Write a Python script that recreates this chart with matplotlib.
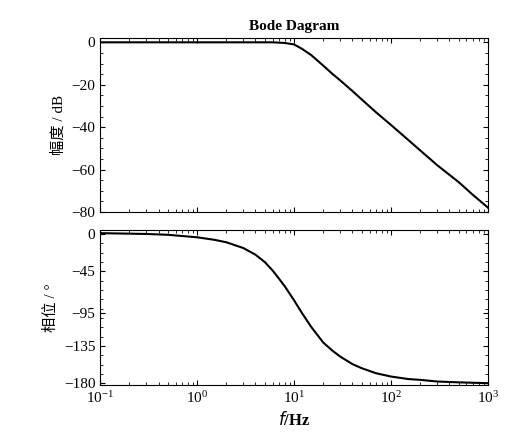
import numpy as np
import matplotlib.pyplot as plt

plt.rcParams['font.family'] = ['Liberation Serif', 'Noto Sans CJK SC']

# values
mag_freq = [0.1, 0.5, 1, 2, 4, 6, 8, 10, 12, 15, 20, 25, 30, 40, 50, 70, 100, 150, 200, 300, 500, 700, 1000]
mag_db = [0, 0, 0, 0, 0, 0, -0.3, -1, -3, -6, -11, -15, -18, -23, -27, -33, -39, -46, -51, -58, -66, -72, -78]

ph_freq = [0.1, 0.3, 0.5, 1, 1.5, 2, 3, 4, 5, 6, 7, 8, 10, 12, 15, 20, 25, 30, 40, 50, 70, 100, 150, 200, 300, 500, 1000]
ph_deg = [1, 0, -1, -4, -7, -10, -17, -25, -34, -44, -54, -63, -80, -95, -112, -131, -141, -148, -157, -162, -168, -172, -175, -176, -178, -179, -180]

ph_ticks = [0, -45, -95, -135, -180]

fig = plt.figure(figsize=(5.27, 4.48), dpi=100)
ax1 = fig.add_axes([0.19, 0.527, 0.736, 0.388])
ax2 = fig.add_axes([0.19, 0.141, 0.736, 0.346])

ax1.semilogx(mag_freq, mag_db, color='black', lw=1.5)
ax2.semilogx(ph_freq, ph_deg, color='black', lw=1.5)

for ax in (ax1, ax2):
    ax.set_xlim(0.1, 1000)
    ax.tick_params(which='both', direction='in', top=True, right=True, labelsize=11)
    ax.minorticks_on()

ax1.set_ylim(-80, 2)
ax1.set_yticks([0, -20, -40, -60, -80])
ax1.set_xticklabels([])
ax1.tick_params(axis='x', which='both', labelbottom=False)
ax1.set_ylabel('幅度 / dB', fontsize=11)
ax1.set_title('Bode Dagram', fontsize=11, fontweight='bold')

ax2.set_ylim(-182, 5)
ax2.set_yticks(ph_ticks)
ax2.set_ylabel('相位 / °', fontsize=11)
ax2.set_xlabel(r'$\it{f}$/Hz', fontsize=12, fontweight='bold')

fig.savefig('out.png', dpi=100)
